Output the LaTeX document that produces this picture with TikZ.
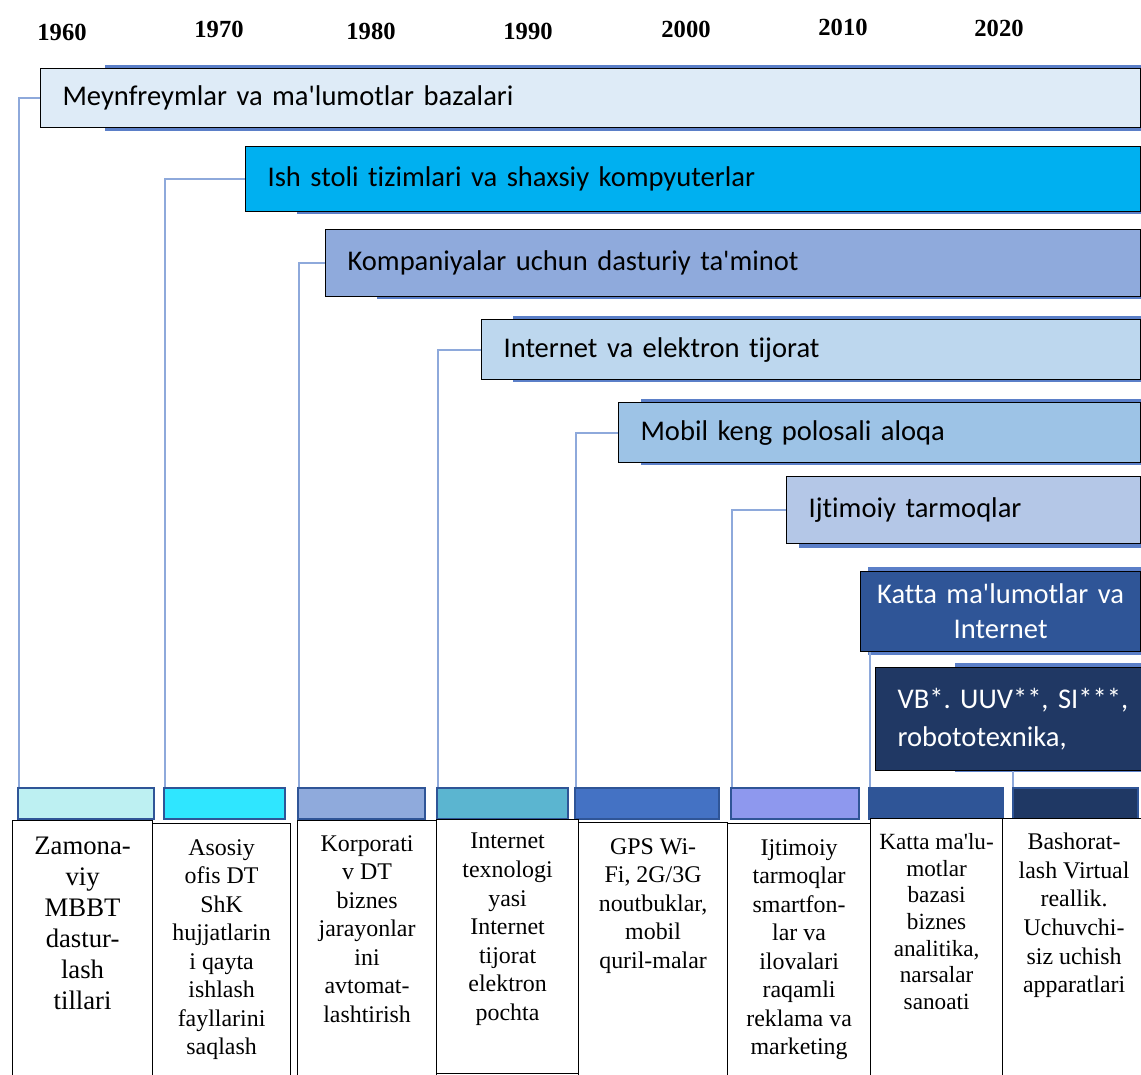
\documentclass[tikz,border=0pt]{standalone}
\usepackage{fontspec}
\setmainfont{Liberation Serif}[Ligatures=TeXOff]
\newfontfamily\barfont{Carlito}[Ligatures={TeXOff,CommonOff}]
\frenchspacing
\definecolor{barA}{HTML}{DEEBF7}
\definecolor{barB}{HTML}{00B0F0}
\definecolor{barC}{HTML}{8FAADC}
\definecolor{barD}{HTML}{BDD7EE}
\definecolor{barE}{HTML}{9DC3E6}
\definecolor{barF}{HTML}{B4C7E7}
\definecolor{barG}{HTML}{2F5597}
\definecolor{barH}{HTML}{203864}
\definecolor{stripA}{HTML}{BDF0F2}
\definecolor{stripB}{HTML}{2FE6FF}
\definecolor{stripC}{HTML}{8FAADC}
\definecolor{stripD}{HTML}{5BB5D0}
\definecolor{stripE}{HTML}{4472C4}
\definecolor{stripF}{HTML}{8E98EE}
\definecolor{stripG}{HTML}{2F5597}
\definecolor{stripH}{HTML}{1F3864}
\definecolor{stripline}{HTML}{2F5597}
\definecolor{linkblue}{HTML}{8EA9DB}
\definecolor{shadowblue}{HTML}{5B7FC8}
\begin{document}
\begin{tikzpicture}[x=0.025cm,y=-0.025cm,yearS/.style={font=\fontsize{17.5}{20}\selectfont\bfseries},shadowS/.style={fill=shadowblue},barS/.style={draw=black,line width=0.8pt,anchor=north west,inner xsep=0.55cm,inner ysep=0pt,align=left,font=\barfont\fontsize{20.3}{25}\selectfont},stripS/.style={draw=stripline,line width=1.5pt,anchor=north west,minimum height=0.775cm,inner sep=0pt},descS/.style={draw=black,line width=0.8pt,fill=white,anchor=north west,inner sep=0pt},textS/.style={align=center,anchor=north,inner sep=0pt,font=\fontsize{17}{20.3}\selectfont},linkS/.style={draw=linkblue,line width=1.4pt}]
\useasboundingbox (0,0) rectangle (1141,1075);
\node[yearS] (y1960) at (62,32) {1960};
\node[yearS] (y1970) at (219,29) {1970};
\node[yearS] (y1980) at (371,31) {1980};
\node[yearS] (y1990) at (528,31) {1990};
\node[yearS] (y2000) at (686,29) {2000};
\node[yearS] (y2010) at (843,27) {2010};
\node[yearS] (y2020) at (999,28) {2020};

\fill[shadowS] (105,65) rectangle (1141,131);
\fill[shadowS] (297,148) rectangle (1141,214);
\fill[shadowS] (377,231) rectangle (1141,299);
\fill[shadowS] (513,316) rectangle (1141,382);
\fill[shadowS] (641,399) rectangle (1141,465);
\fill[shadowS] (799,478) rectangle (1141,548);
\fill[shadowS] (868,567) rectangle (1141,655);
\fill[shadowS] (955,663) rectangle (1141,772);

\node[barS,fill=barA,minimum width=27.5cm,minimum height=1.475cm,text width=26.4cm] (b1) at (40,68) {Meynfreymlar va ma'lumotlar bazalari};
\node[barS,fill=barB,minimum width=22.375cm,minimum height=1.625cm,text width=21.275cm] (b2) at (245,146) {Ish stoli tizimlari va shaxsiy kompyuterlar};
\node[barS,fill=barC,minimum width=20.375cm,minimum height=1.675cm,text width=19.275cm] (b3) at (325,229) {Kompaniyalar uchun dasturiy ta'minot};
\node[barS,fill=barD,minimum width=16.475cm,minimum height=1.5cm,text width=15.375cm] (b4) at (481,319) {Internet va elektron tijorat};
\node[barS,fill=barE,minimum width=13.05cm,minimum height=1.5cm,text width=11.95cm] (b5) at (618,402) {Mobil keng polosali aloqa};
\node[barS,fill=barF,minimum width=8.85cm,minimum height=1.675cm,text width=7.75cm] (b6) at (786,476) {Ijtimoiy tarmoqlar};
\node[barS,fill=barG,text=white,align=center,inner xsep=0.2cm,minimum width=7cm,minimum height=2cm,text width=6.6cm] (b7) at (860,571) {Katta ma'lumotlar va\\Internet};
\node[barS,fill=barH,text=white,minimum height=2.575cm,text width=6.6cm,font=\barfont\fontsize{20.3}{27}\selectfont] (b8) at (875,667) {VB*. UUV**, SI***,\\robototexnika,};

\node[stripS,fill=stripA,minimum width=3.4cm] (s1) at (17,787) {};
\node[stripS,fill=stripB,minimum width=3.025cm] (s2) at (163,787) {};
\node[stripS,fill=stripC,minimum width=3.175cm] (s3) at (297,787) {};
\node[stripS,fill=stripD,minimum width=3.275cm] (s4) at (436,787) {};
\node[stripS,fill=stripE,minimum width=3.6cm] (s5) at (574,787) {};
\node[stripS,fill=stripF,minimum width=3.2cm] (s6) at (730,787) {};
\node[stripS,fill=stripG,minimum width=3.35cm] (s7) at (868,787) {};
\node[stripS,fill=stripH,minimum width=3.125cm] (s8) at (1012,787) {};

\draw[linkS] (b1.west) -| ([xshift=0.05cm]s1.north west);
\draw[linkS] (b2.west) -| ([xshift=0.05cm]s2.north west);
\draw[linkS] (b3.west) -| ([xshift=0.05cm]s3.north west);
\draw[linkS] (b4.west) -| ([xshift=0.05cm]s4.north west);
\draw[linkS] (b5.west) -| ([xshift=0.05cm]s5.north west);
\draw[linkS] (b6.west) -| ([xshift=0.05cm]s6.north west);
\coordinate (k7) at ([xshift=0.05cm]s7.north west);
\coordinate (k8) at ([xshift=0.03cm]s8.north west);
\draw[linkS] (k7) -- (k7 |- b7.south);
\draw[linkS] (k8) -- (k8 |- b8.south);

\node[descS,minimum width=3.5cm,minimum height=6.45cm] (d1) at (12,820) {};
\node[descS,minimum width=3.45cm,minimum height=6.375cm] (d2) at (152,823) {};
\node[descS,minimum width=3.475cm,minimum height=6.45cm] (d3) at (297,820) {};
\node[descS,minimum width=3.55cm,minimum height=6.35cm] (d4) at (436,819) {};
\node[descS,minimum width=3.725cm,minimum height=6.4cm] (d5) at (578,822) {};
\node[descS,minimum width=3.575cm,minimum height=6.375cm] (d6) at (727,823) {};
\node[descS,minimum width=3.3cm,minimum height=6.5cm] (d7) at (870,818) {};
\node[descS,minimum width=3.575cm,minimum height=6.5cm] (d8) at (1002,818) {};

\node[textS,font=\fontsize{19}{22}\selectfont] (t1) at ([yshift=-0.425cm]d1.north) {Zamona-\\viy\\MBBT\\dastur-\\lash\\tillari};
\node[textS] (t2) at ([yshift=-0.4cm]d2.north) {Asosiy\\ofis DT\\ShK\\hujjatlarin\\i qayta\\ishlash\\fayllarini\\saqlash};
\node[textS] (t3) at ([yshift=-0.375cm]d3.north) {Korporati\\v DT\\biznes\\jarayonlar\\ini\\avtomat-\\lashtirish};
\node[textS] (t4) at ([yshift=-0.35cm]d4.north) {Internet\\texnologi\\yasi\\Internet\\tijorat\\elektron\\pochta};
\node[textS] (t5) at ([yshift=-0.4cm]d5.north) {GPS Wi-\\Fi, 2G/3G\\noutbuklar,\\mobil\\quril-malar};
\node[textS] (t6) at ([yshift=-0.4cm]d6.north) {Ijtimoiy\\tarmoqlar\\smartfon-\\lar va\\ilovalari\\raqamli\\reklama va\\marketing};
\node[textS,font=\fontsize{16.5}{19}\selectfont] (t7) at ([yshift=-0.375cm]d7.north) {Katta ma'lu-\\motlar\\bazasi\\biznes\\analitika,\\narsalar\\sanoati};
\node[textS] (t8) at ([yshift=-0.375cm]d8.north) {Bashorat-\\lash Virtual\\reallik.\\Uchuvchi-\\siz uchish\\apparatlari};
\end{tikzpicture}
\end{document}
